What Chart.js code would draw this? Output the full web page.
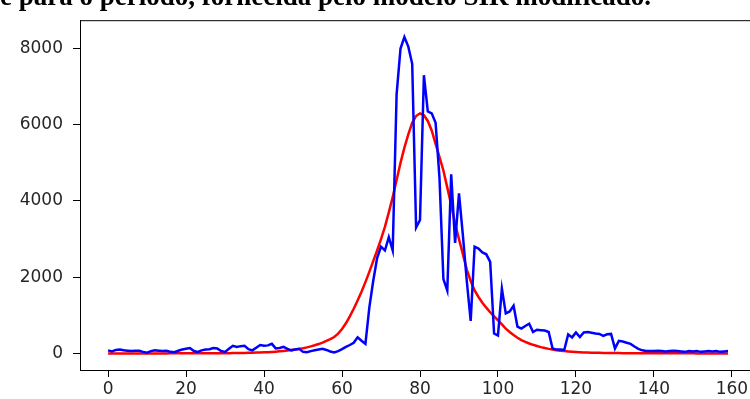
<!DOCTYPE html>
<html>
<head>
<meta charset="utf-8">
<script src="https://cdn.jsdelivr.net/npm/chart.js@4.4.1/dist/chart.umd.min.js"></script>
<style>
  html, body { margin: 0; padding: 0; background: #fff; overflow: hidden; }
  #wrap { position: relative; width: 750px; height: 399px; overflow: hidden; }
  #caption {
    position: absolute; left: 0; top: -17px; white-space: nowrap;
    font: bold 27px 'Liberation Serif', 'Times New Roman', serif; line-height: 26px; color: #000;
  }
  #chart { position: absolute; left: 0; top: 0; }
</style>
</head>
<body>
<div id="wrap">
  <canvas id="chart" width="770" height="399"></canvas>
  <div id="caption">e para o período, fornecida pelo modelo SIR modificado.</div>
</div>
<script>
// days 0..159
const days = Array.from({ length: 160 }, (_, i) => i);

// observed cases (blue)
const observed = [
  80, 50, 90, 100, 80, 70, 60, 70, 70, 40,
  20, 60, 80, 70, 60, 70, 40, 30, 70, 100,
  120, 140, 60, 40, 80, 100, 110, 140, 130, 60,
  40, 120, 200, 170, 190, 200, 110, 80, 150, 220,
  200, 210, 250, 130, 140, 170, 120, 80, 100, 120,
  40, 30, 60, 80, 100, 120, 90, 50, 25, 60,
  110, 170, 220, 280, 420, 330, 250, 1200, 1900, 2500,
  2800, 2700, 3050, 2700, 6800, 8000, 8300, 8050, 7600, 3300,
  3500, 7300, 6350, 6300, 6050, 4600, 1950, 1650, 4700, 2900,
  4200, 3100, 1900, 850, 2800, 2750, 2650, 2600, 2400, 520,
  470, 1700, 1050, 1100, 1250, 700, 650, 720, 780, 560,
  620, 610, 600, 560, 130, 100, 100, 90, 500, 420,
  550, 430, 550, 560, 540, 520, 510, 460, 500, 510,
  130, 330, 310, 280, 250, 180, 120, 80, 60, 60,
  60, 70, 60, 50, 60, 70, 60, 50, 40, 60,
  50, 60, 40, 50, 60, 50, 60, 40, 50, 60
];

// modified SIR model (red)
const model = [
  0, 0, 0, 0, 0, 0, 0, 0, 0, 0,
  0, 0, 0, 0, 0, 0, 1, 1, 1, 1,
  2, 2, 2, 3, 3, 3, 4, 4, 4, 5,
  5, 6, 7, 8, 10, 12, 14, 17, 20, 24,
  28, 33, 39, 46, 54, 63, 74, 86, 100, 117,
  136, 158, 183, 212, 245, 283, 326, 375, 430, 520,
  640, 790, 970, 1170, 1390, 1620, 1870, 2140, 2420, 2700,
  3000, 3320, 3700, 4100, 4550, 5000, 5400, 5750, 6050, 6230,
  6300, 6250, 6100, 5850, 5500, 5150, 4800, 4350, 3900, 3400,
  3000, 2600, 2200, 1900, 1650, 1480, 1330, 1200, 1080, 970,
  870, 760, 650, 560, 480, 410, 350, 300, 260, 225,
  195, 165, 140, 118, 100, 85, 72, 61, 52, 44,
  37, 31, 26, 22, 19, 16, 14, 12, 10, 9,
  8, 7, 6, 5, 4, 4, 3, 3, 2, 2,
  2, 2, 1, 1, 1, 1, 1, 1, 1, 1,
  1, 0, 0, 0, 0, 0, 0, 0, 0, 0
];

const xTicks = [0, 20, 40, 60, 80, 100, 120, 140, 160];
const yTicks = [0, 2000, 4000, 6000, 8000];

const toPoints = vals => days.map((d, i) => ({ x: d, y: vals[i] }));

// top spine of the axes box
const topSpine = {
  id: 'topSpine',
  afterDraw(chart) {
    const { ctx, chartArea } = chart;
    ctx.save();
    ctx.strokeStyle = '#000';
    ctx.lineWidth = 1;
    ctx.beginPath();
    ctx.moveTo(chartArea.left, chartArea.top + 0.5);
    ctx.lineTo(chartArea.right, chartArea.top + 0.5);
    ctx.stroke();
    ctx.restore();
  }
};

const tickFont = { family: "'DejaVu Sans', sans-serif", size: 17 };

new Chart(document.getElementById('chart').getContext('2d'), {
  type: 'line',
  data: {
    datasets: [{
      label: 'observed',
      data: toPoints(observed),
      borderColor: '#0000ff',
      borderWidth: 2.5,
      pointRadius: 0,
      tension: 0
    }, {
      label: 'model',
      data: toPoints(model),
      borderColor: '#ff0000',
      borderWidth: 2.5,
      pointRadius: 0,
      tension: 0
    }]
  },
  options: {
    responsive: false,
    animation: false,
    events: [],
    layout: { padding: { top: 12, right: 10, left: 0, bottom: 0 } },
    plugins: {
      legend: { display: false },
      tooltip: { enabled: false }
    },
    scales: {
      x: {
        type: 'linear',
        min: -7.2,
        max: 167.2,
        afterBuildTicks: scale => { scale.ticks = xTicks.map(v => ({ value: v })); },
        afterFit: scale => { scale.height = 29; },
        border: { display: true, color: '#000', width: 1 },
        grid: { display: true, drawOnChartArea: false, tickLength: 7, tickColor: '#000' },
        ticks: { color: '#262626', font: tickFont, padding: 2, maxRotation: 0, callback: v => String(v) }
      },
      y: {
        type: 'linear',
        min: -436,
        max: 8744,
        afterBuildTicks: scale => { scale.ticks = yTicks.map(v => ({ value: v })); },
        afterFit: scale => { scale.width = 80; },
        border: { display: true, color: '#000', width: 1 },
        grid: { display: true, drawOnChartArea: false, tickLength: 7, tickColor: '#000' },
        ticks: { color: '#262626', font: tickFont, padding: 10, callback: v => String(v) }
      }
    }
  },
  plugins: [topSpine]
});
</script>
</body>
</html>
